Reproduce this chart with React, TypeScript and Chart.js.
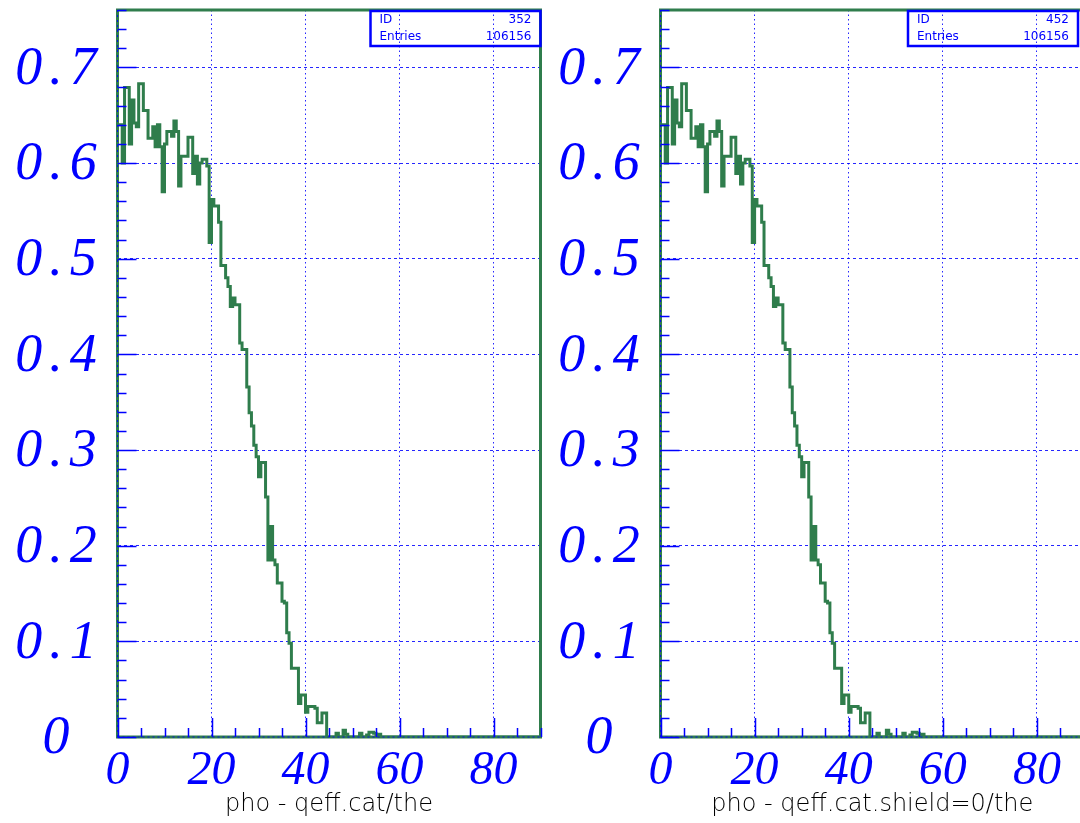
import React, { useEffect, useRef } from 'react';
import { Chart, registerables } from 'chart.js';

Chart.register(...registerables);

const BIN_WIDTH = 0.5;
const X_MIN = 0;
const X_MAX = 90;
const Y_MIN = 0;
const Y_MAX = 0.76;
const X_MAJOR_TICKS = [0, 20, 40, 60, 80];
const Y_MAJOR_TICKS = [0, 0.1, 0.2, 0.3, 0.4, 0.5, 0.6, 0.7];
const Y_TICK_LABELS = ['0', '0.1', '0.2', '0.3', '0.4', '0.5', '0.6', '0.7'];
const X_MINOR_STEP = 5;
const Y_MINOR_STEP = 0.02;

// pho - qeff.cat/the  (0.5 degree bins from 0 to 90)
const EFF_CAT = [
  0.640, 0.640, 0.600, 0.679, 0.679, 0.620, 0.666, 0.642, 0.638, 0.683,
  0.683, 0.655, 0.655, 0.626, 0.626, 0.638, 0.617, 0.640, 0.617, 0.570,
  0.620, 0.633, 0.633, 0.628, 0.644, 0.633, 0.576, 0.607, 0.607, 0.607,
  0.627, 0.627, 0.589, 0.607, 0.578, 0.600, 0.604, 0.604, 0.597, 0.517,
  0.562, 0.555, 0.555, 0.538, 0.493, 0.493, 0.480, 0.471, 0.450, 0.459,
  0.452, 0.452, 0.412, 0.405, 0.405, 0.366, 0.339, 0.325, 0.305, 0.293,
  0.272, 0.287, 0.287, 0.251, 0.185, 0.220, 0.185, 0.180, 0.161, 0.161,
  0.142, 0.140, 0.109, 0.098, 0.072, 0.072, 0.072, 0.035, 0.044, 0.044,
  0.026, 0.032, 0.032, 0.032, 0.030, 0.015, 0.015, 0.025, 0.025, 0,
  0, 0, 0, 0.004, 0, 0, 0.007, 0.003, 0, 0,
  0, 0, 0, 0.004, 0, 0, 0.002, 0.005, 0.005, 0.004,
  0, 0.003, 0, 0, 0, 0, 0, 0, 0, 0,
  0, 0, 0, 0, 0, 0, 0, 0, 0, 0,
  0, 0, 0, 0, 0, 0, 0, 0, 0, 0,
  0, 0, 0, 0, 0, 0, 0, 0, 0, 0,
  0, 0, 0, 0, 0, 0, 0, 0, 0, 0,
  0, 0, 0, 0, 0, 0, 0, 0, 0, 0,
  0, 0, 0, 0, 0, 0, 0, 0, 0, 0,
];

// pho - qeff.cat.shield=0/the
const EFF_SHIELD = [
  0.640, 0.640, 0.600, 0.679, 0.679, 0.620, 0.666, 0.642, 0.638, 0.683,
  0.683, 0.655, 0.655, 0.626, 0.626, 0.638, 0.617, 0.640, 0.617, 0.570,
  0.620, 0.633, 0.633, 0.628, 0.644, 0.633, 0.576, 0.607, 0.607, 0.607,
  0.627, 0.627, 0.589, 0.607, 0.578, 0.600, 0.604, 0.604, 0.597, 0.517,
  0.562, 0.555, 0.555, 0.538, 0.493, 0.493, 0.480, 0.471, 0.450, 0.459,
  0.452, 0.452, 0.412, 0.405, 0.405, 0.366, 0.339, 0.325, 0.305, 0.293,
  0.272, 0.287, 0.287, 0.251, 0.185, 0.220, 0.185, 0.180, 0.161, 0.161,
  0.142, 0.140, 0.109, 0.098, 0.072, 0.072, 0.072, 0.035, 0.044, 0.044,
  0.026, 0.032, 0.032, 0.032, 0.030, 0.015, 0.015, 0.025, 0.025, 0,
  0, 0, 0.004, 0, 0, 0, 0.007, 0.003, 0, 0,
  0, 0, 0, 0.004, 0, 0, 0.002, 0.005, 0.005, 0.004,
  0, 0.003, 0, 0, 0, 0, 0, 0, 0, 0,
  0, 0, 0, 0, 0, 0, 0, 0, 0, 0,
  0, 0, 0, 0, 0, 0, 0, 0, 0, 0,
  0, 0, 0, 0, 0, 0, 0, 0, 0, 0,
  0, 0, 0, 0, 0, 0, 0, 0, 0, 0,
  0, 0, 0, 0, 0, 0, 0, 0, 0, 0,
  0, 0, 0, 0, 0, 0, 0, 0, 0, 0,
];

const TITLE_CAT = 'pho - qeff.cat/the';
const TITLE_SHIELD = 'pho - qeff.cat.shield=0/the';
const STAT_NAMES = ['ID', 'Entries'];
const STATS_CAT = ['352', '106156'];
const STATS_SHIELD = ['452', '106156'];

const GREEN = '#2f7d4c';
const BLUE = '#0000ff';
const GRID_BLUE = 'rgba(0,0,255,0.85)';
const HEIGHT = 823;
const Y_LABEL_FONT = 'italic 54px "Liberation Serif", "Times New Roman", serif';

const decorPlugin = {
  id: 'decor',
  afterDatasetsDraw(chart: any, _args: any, opts: any) {
    const { ctx, chartArea, scales } = chart;
    const { left, right, top, bottom } = chartArea;
    const xs = scales.x;
    const ys = scales.y;
    ctx.save();
    // frame
    ctx.strokeStyle = GREEN;
    ctx.lineWidth = 3;
    ctx.strokeRect(left, top, right - left, bottom - top);
    // dotted overlay on the axes
    ctx.strokeStyle = GRID_BLUE;
    ctx.lineWidth = 1;
    ctx.setLineDash([2, 3]);
    ctx.beginPath();
    ctx.moveTo(left, bottom);
    ctx.lineTo(right, bottom);
    ctx.moveTo(left, bottom);
    ctx.lineTo(left, top);
    ctx.stroke();
    ctx.setLineDash([]);
    // tick marks (pointing inwards)
    ctx.strokeStyle = BLUE;
    ctx.lineWidth = 1.5;
    ctx.beginPath();
    for (let k = 0; ; k++) {
      const v = Y_MIN + k * Y_MINOR_STEP;
      if (v > Y_MAX + 1e-9) break;
      const major = Math.abs(v * 10 - Math.round(v * 10)) < 1e-6;
      const py = Math.round(ys.getPixelForValue(v)) + 0.5;
      ctx.moveTo(left, py);
      ctx.lineTo(left + (major ? 19 : 9), py);
    }
    for (let k = 0; ; k++) {
      const v = X_MIN + k * X_MINOR_STEP;
      if (v > X_MAX + 1e-9) break;
      const major = v % 20 === 0;
      const px = Math.round(xs.getPixelForValue(v)) + 0.5;
      ctx.moveTo(px, bottom);
      ctx.lineTo(px, bottom - (major ? 19 : 9));
    }
    ctx.stroke();
    // y tick labels (large italic serif)
    ctx.fillStyle = BLUE;
    ctx.font = Y_LABEL_FONT;
    ctx.textAlign = 'center';
    ctx.textBaseline = 'middle';
    const spacing = 7;
    (ctx as any).letterSpacing = spacing + 'px';
    Y_MAJOR_TICKS.forEach((v: number, i: number) => {
      ctx.fillText(Y_TICK_LABELS[i], left - 61.5 + spacing / 2, ys.getPixelForValue(v) + 2);
    });
    (ctx as any).letterSpacing = '0px';
    // statistics box
    const bw = 170;
    const bh = 35;
    const bx1 = right - (opts.boxInset || 0);
    const bx0 = bx1 - bw;
    ctx.strokeStyle = BLUE;
    ctx.lineWidth = 2.5;
    ctx.strokeRect(bx0, top + 1, bw, bh);
    ctx.fillStyle = BLUE;
    ctx.font = '12px "DejaVu Sans", sans-serif';
    ctx.textBaseline = 'middle';
    STAT_NAMES.forEach((name: string, i: number) => {
      const ty = top + 10 + i * 17;
      ctx.textAlign = 'left';
      ctx.fillText(name, bx0 + 9, ty);
      ctx.textAlign = 'right';
      ctx.fillText(opts.stats[i], bx1 - 9, ty);
    });
    ctx.restore();
  },
};

type PanelProps = {
  values: number[];
  title: string;
  stats: string[];
  x: number;
  width: number;
  padRight: number;
  boxInset: number;
};

function Panel({ values, title, stats, x, width, padRight, boxInset }: PanelProps) {
  const ref = useRef<HTMLCanvasElement>(null);
  useEffect(() => {
    const canvas = ref.current;
    if (!canvas) return;
    const points = values.map((v, i) => ({ x: X_MIN + i * BIN_WIDTH, y: v }));
    points.push({ x: X_MAX, y: values[values.length - 1] });
    const tickFont = { family: '"Liberation Serif", "Times New Roman", serif', size: 48, style: 'italic' as const };
    const chart = new Chart(canvas, {
      type: 'line',
      data: {
        datasets: [
          {
            data: points,
            stepped: true,
            borderColor: GREEN,
            borderWidth: 3,
            pointRadius: 0,
            fill: false,
            tension: 0,
            borderJoinStyle: 'miter',
          },
        ],
      },
      options: {
        animation: false,
        responsive: false,
        maintainAspectRatio: false,
        events: [],
        layout: { padding: { top: 10, right: padRight, left: 0, bottom: 0 } },
        plugins: {
          legend: { display: false },
          tooltip: { enabled: false },
          decor: { stats, boxInset },
        } as any,
        scales: {
          x: {
            type: 'linear',
            min: X_MIN,
            max: X_MAX,
            afterBuildTicks: (s: any) => {
              s.ticks = X_MAJOR_TICKS.map((value) => ({ value }));
            },
            afterFit: (s: any) => {
              s.height = 86;
              s.paddingLeft = 0;
              s.paddingRight = 0;
            },
            grid: { color: GRID_BLUE, lineWidth: 1, drawTicks: false },
            border: { display: false, dash: [1.5, 3] },
            ticks: {
              font: tickFont,
              color: BLUE,
              padding: 6,
              maxRotation: 0,
              autoSkip: false,
            },
            title: {
              display: true,
              text: title,
              color: '#000',
              font: { family: '"DejaVu Sans", sans-serif', size: 24, weight: '200' as any },
              padding: { top: 0, bottom: 4 },
            },
          },
          y: {
            type: 'linear',
            min: Y_MIN,
            max: Y_MAX,
            afterBuildTicks: (s: any) => {
              s.ticks = Y_MAJOR_TICKS.map((value) => ({ value }));
            },
            afterFit: (s: any) => {
              s.width = 117.5;
              s.paddingTop = 0;
              s.paddingBottom = 0;
            },
            grid: { color: GRID_BLUE, lineWidth: 1, drawTicks: false },
            border: { display: false, dash: [3, 3] },
            ticks: { display: false, padding: 0 },
          },
        },
      },
      plugins: [decorPlugin as any],
    });
    return () => chart.destroy();
  }, [values, title, stats, padRight, boxInset]);
  return (
    <canvas
      ref={ref}
      width={width}
      height={HEIGHT}
      style={{ position: 'absolute', left: x, top: 0, width, height: HEIGHT }}
    />
  );
}

export default function App() {
  return (
    <div
      style={{
        position: 'fixed',
        left: 0,
        top: 0,
        width: 1080,
        height: HEIGHT,
        overflow: 'hidden',
        background: '#fff',
      }}
    >
      <Panel values={EFF_CAT} title={TITLE_CAT} stats={STATS_CAT} x={0} width={543} padRight={2.5} boxInset={0} />
      <Panel values={EFF_SHIELD} title={TITLE_SHIELD} stats={STATS_SHIELD} x={543} width={547} padRight={6} boxInset={6} />
    </div>
  );
}
